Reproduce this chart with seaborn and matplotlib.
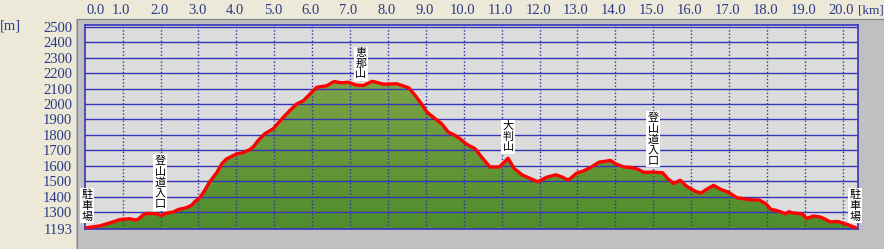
import numpy as np
import pandas as pd
import matplotlib
matplotlib.use("Agg")
import matplotlib.pyplot as plt
import matplotlib.transforms as mtransforms
from matplotlib.patches import Rectangle
from matplotlib.lines import Line2D
from matplotlib.colors import LinearSegmentedColormap
import seaborn as sns

# ---------------- data ----------------
dist_km = [0.00, 0.40, 0.75, 0.93, 1.19, 1.32, 1.41, 1.54, 1.63, 1.90, 2.01, 2.12,
           2.34, 2.47, 2.69, 2.82, 2.91, 3.04, 3.17, 3.30, 3.48, 3.62, 3.74, 4.01,
           4.18, 4.36, 4.45, 4.58, 4.75, 4.97, 5.20, 5.41, 5.59, 5.77, 5.94, 6.12,
           6.38, 6.58, 6.78, 6.95, 7.17, 7.35, 7.59, 7.88, 8.23, 8.55, 8.73, 8.90,
           9.04, 9.24, 9.42, 9.59, 9.77, 9.90, 10.08, 10.30, 10.47, 10.69, 10.94,
           11.17, 11.33, 11.55, 11.75, 11.95, 12.19, 12.43, 12.58, 12.76, 12.98,
           13.15, 13.37, 13.57, 13.87, 14.02, 14.22, 14.43, 14.58, 14.75, 15.01,
           15.25, 15.38, 15.54, 15.71, 15.87, 16.10, 16.26, 16.40, 16.59, 16.79,
           16.97, 17.21, 17.52, 17.80, 17.97, 18.10, 18.33, 18.48, 18.58, 18.70,
           18.93, 19.05, 19.23, 19.43, 19.67, 19.88, 20.13, 20.34]
elev_m = [1198, 1212, 1238, 1253, 1258, 1250, 1255, 1283, 1293, 1290, 1278, 1292,
          1302, 1318, 1330, 1346, 1370, 1396, 1444, 1498, 1556, 1615, 1645, 1678,
          1686, 1706, 1724, 1766, 1808, 1840, 1904, 1958, 2000, 2022, 2064, 2108,
          2118, 2145, 2137, 2141, 2122, 2120, 2147, 2128, 2131, 2105, 2052, 1995,
          1945, 1906, 1872, 1819, 1797, 1776, 1739, 1711, 1657, 1593, 1593,
          1649, 1583, 1540, 1519, 1497, 1527, 1542, 1529, 1508, 1553,
          1566, 1593, 1624, 1635, 1612, 1593, 1589, 1580, 1558, 1560,
          1555, 1518, 1486, 1507, 1470, 1437, 1424, 1447, 1474, 1447,
          1431, 1394, 1382, 1379, 1356, 1320, 1306, 1290, 1303, 1295,
          1290, 1260, 1276, 1268, 1238, 1240, 1220, 1200]

x_ticks = list(range(0, 21))
x_tick_labels = [f"{v:.1f}" for v in x_ticks]
y_ticks = [1193, 1300, 1400, 1500, 1600, 1700, 1800, 1900, 2000, 2100, 2200,
           2300, 2400, 2500]
y_tick_labels = [str(v) for v in y_ticks]

place_names = ["駐車場", "登山道入口", "恵那山", "大判山", "登山道入口", "駐車場"]
place_km = [0.06, 1.99, 7.28, 11.17, 15.0, 20.32]

df = pd.DataFrame({"dist": dist_km, "elev": elev_m})

# ---------------- style ----------------
sns.set_theme(style="white")
plt.rcParams['font.family'] = ['Liberation Serif', 'Noto Sans CJK JP']

W, H = 884, 249
fig = plt.figure(figsize=(W / 100, H / 100), dpi=100, facecolor='#ECE9D8')

def fx(px):
    return px / W

def fy(py):
    return 1 - py / H

# gray panel behind the plot
fig.patches.append(Rectangle((fx(76), 0), 1 - fx(76), fy(19), transform=fig.transFigure,
                             facecolor='#C0C0C0', edgecolor='none', zorder=-2))
fig.add_artist(Line2D([fx(76.5), fx(76.5)], [0, fy(19.5)], color='#808080', lw=0.8,
                      transform=fig.transFigure, zorder=-1))
fig.add_artist(Line2D([fx(76.5), 1], [fy(19.5), fy(19.5)], color='#808080', lw=0.8,
                      transform=fig.transFigure, zorder=-1))

left_px, right_px, top_px, bot_px = 84.8, 857.7, 25.0, 228.8
ax = fig.add_axes([fx(left_px), fy(bot_px), fx(right_px) - fx(left_px), fy(top_px) - fy(bot_px)])
ax.set_zorder(1)
ax.set_facecolor('#DCDCDC')

px_per_km = (842.7 - 84.8) / 20.0
m_per_px = 1200.0 / (212.3 - 26.7)
xmax = (right_px - left_px) / px_per_km
ymin = 1193
ymax = 2500 + (26.7 - top_px) * m_per_px

# green gradient fill clipped to profile
poly = ax.fill_between(df["dist"], df["elev"], ymin, color='none', lw=0, zorder=1)
cmap = LinearSegmentedColormap.from_list("g", ["#4E8C2C", "#7EA446"])
grad = np.linspace(0, 1, 256).reshape(-1, 1)
im = ax.imshow(grad, extent=[0, xmax, ymin, 2160], origin='lower', aspect='auto',
               cmap=cmap, zorder=1, interpolation='bilinear')
im.set_clip_path(poly.get_paths()[0], transform=ax.transData)

# red profile line
sns.lineplot(data=df, x="dist", y="elev", ax=ax, color='#FF0000', lw=2.4, zorder=4,
             estimator=None, sort=False)

ax.set_xlim(0, xmax)
ax.set_ylim(ymin, ymax)

# grid
ax.set_axisbelow(False)
ax.set_xticks(x_ticks[1:])
ax.set_yticks(y_ticks)
ax.yaxis.grid(True, color='#3535B8', lw=1.0, ls='-', zorder=2.5)
ax.xaxis.grid(True, color='#3030A8', lw=1.0, ls=(0, (1, 1.5)), zorder=2.5)
ax.tick_params(axis='x', length=0, labelbottom=False, labeltop=False)
ax.tick_params(axis='y', length=0, pad=9.0, labelsize=10.5, labelcolor='#2B3A86')
ax.set_yticklabels(y_tick_labels)
ax.set_xlabel("")
ax.set_ylabel("")
for s in ax.spines.values():
    s.set_color('#3535B8')
    s.set_linewidth(1.2)
    s.set_visible(True)

# top x labels
trans_top = mtransforms.blended_transform_factory(ax.transData, fig.transFigure)
for v, lab in zip(x_ticks, x_tick_labels):
    if v == 0:
        ax.text(0, fy(10), lab, transform=trans_top + mtransforms.ScaledTranslation(1.5 / 100, 0, fig.dpi_scale_trans),
                ha='left', va='center', fontsize=10.5, color='#2B3A86', clip_on=False)
    else:
        ax.text(v, fy(10), lab, transform=trans_top + mtransforms.ScaledTranslation(-1.5 / 100, 0, fig.dpi_scale_trans),
                ha='center', va='center', fontsize=10.5, color='#2B3A86', clip_on=False)
fig.text(fx(883.5), fy(10), "[km]", ha='right', va='center', fontsize=9.5, color='#2B3A86')
fig.text(fx(0), fy(26), "[m]", ha='left', va='center', fontsize=10.5, color='#2B3A86')

# place-name labels
for name, km in zip(place_names, place_km):
    e = float(np.interp(km, dist_km, elev_m))
    ax.annotate("\n".join(name), xy=(km, e), xytext=(0, 6), textcoords='offset pixels',
                ha='center', va='bottom', fontsize=8, family=['Noto Sans CJK JP'],
                linespacing=1.08, color='black', zorder=6, annotation_clip=False,
                bbox=dict(boxstyle='square,pad=0.12', fc='white', ec='none'))

fig.savefig("out.png", dpi=100, facecolor=fig.get_facecolor())
